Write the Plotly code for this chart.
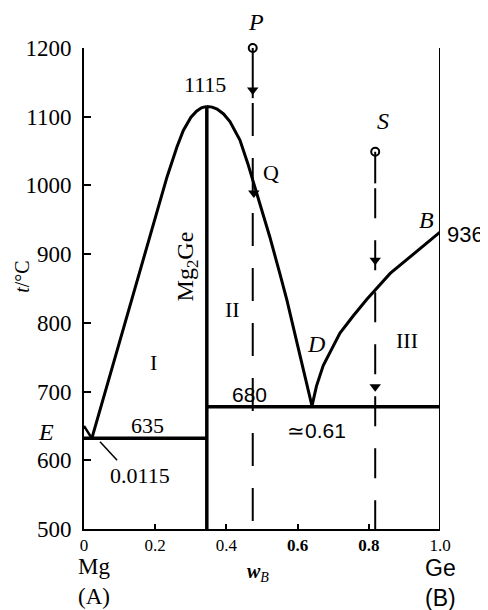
import plotly.graph_objects as go

# ---- data ----
mg_side_w = [0.0, 0.022]
mg_side_t = [650, 632]

liq_left_w = [0.022, 0.053, 0.096, 0.129, 0.166, 0.199, 0.233, 0.261, 0.279, 0.300, 0.316, 0.330, 0.345]
liq_left_t = [632, 688, 763, 823, 890, 950, 1012, 1056, 1080, 1099, 1108, 1113, 1115]

liq_right_w = [0.345, 0.360, 0.374, 0.392, 0.410, 0.438, 0.460, 0.480, 0.500, 0.522, 0.550, 0.570, 0.601, 0.620, 0.640]
liq_right_t = [1115, 1114, 1111, 1104, 1093, 1066, 1032, 997, 962, 925, 872, 833, 765, 722, 680]

liq_ge_w = [0.640, 0.653, 0.672, 0.695, 0.719, 0.756, 0.794, 0.860, 0.924, 1.0]
liq_ge_t = [678, 708, 738, 762, 785, 810, 834, 872, 900, 932]

compound_w = 0.345
peak_t = 1115
eutectic1_t = 632
eutectic2_t = 678
ge_w = 1.0

p_w = 0.474
p_t = [1200, 1127]
p_dash_t = [1120, 500]
p_arrows_w = [0.474, 0.477]
p_arrows_t = [1139, 989]

s_w = 0.818
s_t = [1049, 1003]
s_dash_t = [996, 500]
s_arrows_t = [891, 707]

x_ticks = [0, 0.2, 0.4, 0.6, 0.8, 1.0]
x_ticktext = ["0", "0.2", "0.4", "<b>0.6</b>", "<b>0.8</b>", "1.0"]
y_ticks = [500, 600, 700, 800, 900, 1000, 1100, 1200]

X_RANGE = [0, 1]
Y_RANGE = [500, 1200]

SERIF = "Liberation Serif"
SANS = "Liberation Sans"
K = "black"

fig = go.Figure()

def line(x, y, w=3, dash=None, clip=True):
    fig.add_trace(go.Scatter(x=x, y=y, mode="lines", cliponaxis=clip,
                             line=dict(color=K, width=w, dash=dash),
                             hoverinfo="skip", showlegend=False))

line(mg_side_w, mg_side_t, 2.5)
line(liq_left_w, liq_left_t, 3)
line(liq_right_w, liq_right_t, 3)
line(liq_ge_w, liq_ge_t, 3)
line([compound_w, compound_w], [500, peak_t], 3.5)
line([0, compound_w], [eutectic1_t, eutectic1_t], 3.5)
line([compound_w, ge_w], [eutectic2_t, eutectic2_t], 3.5)
line([ge_w, ge_w], [500, 1204], 2, clip=False)

# path P
line([p_w, p_w], p_t, 2, clip=False)
line([p_w, p_w], p_dash_t, 2, dash="33px,22px")
# path S
line([s_w, s_w], s_t, 2)
line([s_w, s_w], s_dash_t, 2, dash="30px,22px")

# arrow heads
fig.add_trace(go.Scatter(x=p_arrows_w + [s_w, s_w], y=p_arrows_t + s_arrows_t, mode="markers",
                         marker=dict(symbol="triangle-down", size=10, color=K),
                         hoverinfo="skip", showlegend=False))
# open circles
fig.add_trace(go.Scatter(x=[p_w, s_w], y=[p_t[0], s_t[0]], mode="markers", cliponaxis=False,
                         marker=dict(symbol="circle-open", size=8, color=K, line=dict(width=2)),
                         hoverinfo="skip", showlegend=False))

# leader lines
line([-0.067, -0.003], [647, 634], 1.5, clip=False)
line([0.045, 0.093], [627, 600], 1.5)

def ann(text, x, y, size=22, family=SERIF, xanchor="center", angle=0, xshift=0):
    # placed in paper coordinates so labels outside the axes are still drawn
    xp = (x - X_RANGE[0]) / (X_RANGE[1] - X_RANGE[0])
    yp = (y - Y_RANGE[0]) / (Y_RANGE[1] - Y_RANGE[0])
    fig.add_annotation(x=xp, y=yp, xref="paper", yref="paper", text=text, showarrow=False,
                       xanchor=xanchor, yanchor="middle", textangle=angle, xshift=xshift,
                       font=dict(family=family, size=size, color=K))

ann("1115", 0.340, 1147, 22)
ann("936", 1.0, 928, 22, SANS, xanchor="left", xshift=5)
ann("680", 0.466, 696, 21, SANS)
ann("635", 0.177, 650, 22)
ann("0.0115", 0.157, 578, 22)
ann("≃0.61", 0.652, 644, 21, SANS)
ann("Q", 0.525, 1019, 22)
ann("<i>P</i>", 0.483, 1238, 24)
ann("<i>S</i>", 0.840, 1094, 24)
ann("<i>B</i>", 0.963, 950, 24)
ann("<i>D</i>", 0.652, 769, 24)
ann("<i>E</i>", -0.107, 641, 24)
ann("III", 0.907, 774, 22)
ann("II", 0.416, 820, 22)
ann("I", 0.194, 742, 22)
ann("Mg<sub>2</sub>Ge", 0.289, 882, 24, angle=-90)
ann("Mg<br>(A)", 0.028, 423, 23)
ann("Ge<br>(B)", 1.0, 421, 23, SANS)
ann("<b><i>w</i></b><i><sub>B</sub></i>", 0.489, 436, 20)
ann("<i>t</i>/°C", -0.174, 867, 20, angle=-90)

# the page adds an 8px body margin, so the figure is 8px smaller and margins shifted
fig.update_layout(
    width=480, height=602,
    margin=dict(l=76, r=48, t=40, b=81),
    plot_bgcolor="white", paper_bgcolor="white",
    xaxis=dict(range=X_RANGE, showline=True, linecolor=K, linewidth=2, mirror=False,
               showgrid=False, zeroline=False, ticks="inside", ticklen=5, tickwidth=2,
               tickcolor=K, tickvals=x_ticks, ticktext=x_ticktext, ticklabelstandoff=0,
               tickfont=dict(family=SERIF, size=17, color=K)),
    yaxis=dict(range=Y_RANGE, showline=True, linecolor=K, linewidth=2, mirror=False,
               showgrid=False, zeroline=False, ticks="inside", ticklen=7, tickwidth=2,
               tickcolor=K, tickvals=y_ticks, ticklabelstandoff=6,
               tickfont=dict(family=SERIF, size=23, color=K)),
)

fig.write_html("out.html")
